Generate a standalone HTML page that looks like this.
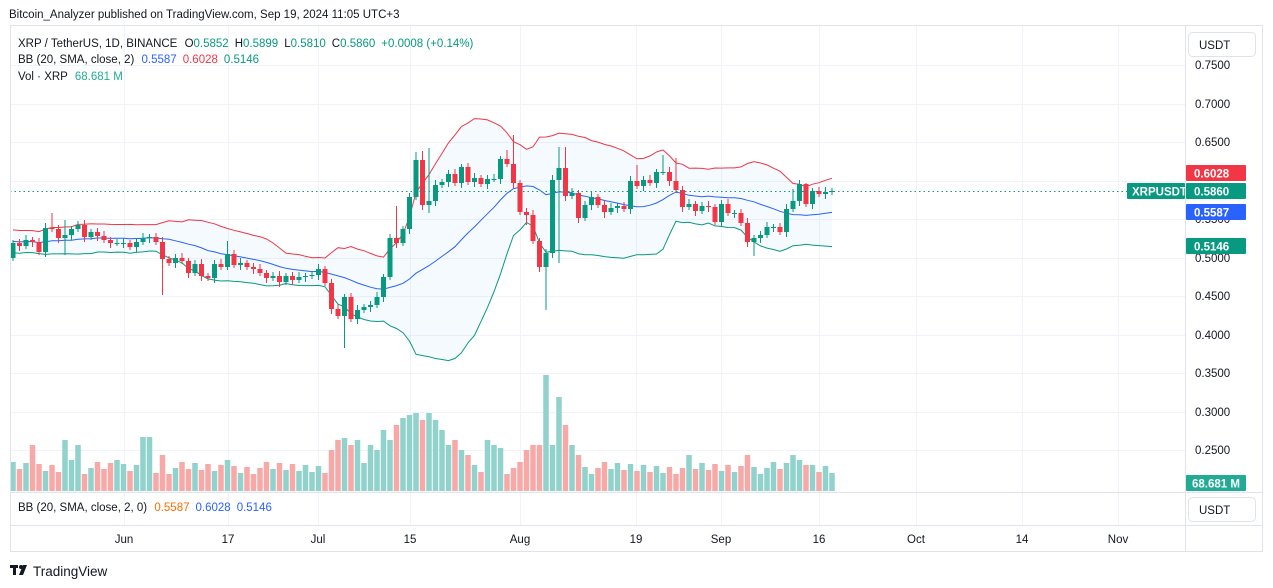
<!DOCTYPE html>
<html><head><meta charset="utf-8">
<style>
html,body{margin:0;padding:0;background:#fff;width:1273px;height:588px;overflow:hidden;font-family:"Liberation Sans",sans-serif;}
svg{position:absolute;left:0;top:0}
</style></head><body>
<svg id="s" width="1273" height="588" xmlns="http://www.w3.org/2000/svg" font-family="Liberation Sans, sans-serif">
<rect x="0" y="0" width="1273" height="588" fill="#fff"/>
<text x="9" y="18" font-size="11.5" fill="#131722">Bitcoin_Analyzer published on TradingView.com, Sep 19, 2024 11:05 UTC+3</text>
<g id="grid" stroke="#F0F3FA" stroke-width="1"></g>
<g id="bb"></g>
<g id="vol"></g>
<g id="candles"></g>
<line x1="10" y1="191.5" x2="1127" y2="191.5" stroke="#089981" stroke-dasharray="1.5,3" stroke-width="1"/>
<rect x="10.5" y="25.5" width="1252" height="526" fill="none" stroke="#E0E3EB"/>
<line x1="1185.5" y1="25" x2="1185.5" y2="552" stroke="#E0E3EB"/>
<line x1="10" y1="492.5" x2="1263" y2="492.5" stroke="#E0E3EB"/>
<line x1="10" y1="525.5" x2="1263" y2="525.5" stroke="#E0E3EB"/>
<text x="18" y="47" font-size="11.5" fill="#131722">XRP / TetherUS, 1D, BINANCE <tspan dx="4">O</tspan><tspan fill="#089981">0.5852</tspan><tspan dx="6">H</tspan><tspan fill="#089981">0.5899</tspan><tspan dx="6">L</tspan><tspan fill="#089981">0.5810</tspan><tspan dx="6">C</tspan><tspan fill="#089981">0.5860</tspan><tspan dx="6" fill="#089981">+0.0008 (+0.14%)</tspan></text>
<text x="18" y="63" font-size="11.5" fill="#131722">BB (20, SMA, close, 2) <tspan dx="4" fill="#2962FF">0.5587</tspan><tspan dx="6" fill="#F23645">0.6028</tspan><tspan dx="6" fill="#089981">0.5146</tspan></text>
<text x="18" y="80" font-size="11.5" fill="#131722">Vol · XRP <tspan dx="4" fill="#22AB94">68.681 M</tspan></text>
<text x="18" y="511" font-size="11.5" fill="#131722">BB (20, SMA, close, 2, 0) <tspan dx="4" fill="#FF6D00">0.5587</tspan><tspan dx="6" fill="#2962FF">0.6028</tspan><tspan dx="6" fill="#2962FF">0.5146</tspan></text>
<g font-size="11.5" fill="#131722">
<text x="1195" y="69">0.7500</text><text x="1195" y="108">0.7000</text><text x="1195" y="146">0.6500</text>
<text x="1195" y="223">0.5500</text><text x="1195" y="262">0.5000</text><text x="1195" y="300">0.4500</text>
<text x="1195" y="339">0.4000</text><text x="1195" y="377">0.3500</text><text x="1195" y="416">0.3000</text>
<text x="1195" y="454">0.2500</text>
</g>
<rect x="1188.5" y="32.5" width="67" height="24" rx="4" fill="#fff" stroke="#E0E3EB"/>
<text x="1199" y="49" font-size="11.5" fill="#131722">USDT</text>
<rect x="1188.5" y="497.5" width="67" height="24" rx="4" fill="#fff" stroke="#E0E3EB"/>
<text x="1199" y="514" font-size="11.5" fill="#131722">USDT</text>
<g font-size="11.5" font-weight="bold" fill="#fff">
<rect x="1186" y="165" width="60" height="16" fill="#F23645" rx="1"/><text x="1194" y="177.5">0.6028</text>
<rect x="1127" y="183" width="58" height="16" fill="#089981" rx="1"/><text x="1132" y="195.5">XRPUSDT</text>
<rect x="1186" y="183" width="60" height="16" fill="#089981" rx="1"/><text x="1194" y="195.5">0.5860</text>
<rect x="1186" y="204" width="60" height="16" fill="#2962FF" rx="1"/><text x="1194" y="216.5">0.5587</text>
<rect x="1186" y="238" width="60" height="16" fill="#089981" rx="1"/><text x="1194" y="250.5">0.5146</text>
<rect x="1186" y="475" width="60" height="16" fill="#22AB94" rx="1"/><text x="1192" y="487.5">68.681 M</text>
</g>
<g font-size="11.5" fill="#131722" text-anchor="middle">
<text x="124" y="543">Jun</text><text x="228" y="543">17</text><text x="318" y="543">Jul</text>
<text x="410" y="543">15</text><text x="520" y="543">Aug</text><text x="636" y="543">19</text>
<text x="721" y="543">Sep</text><text x="819" y="543">16</text><text x="916" y="543">Oct</text>
<text x="1022" y="543">14</text><text x="1118" y="543">Nov</text>
</g>
<g fill="#131722"><rect x="10" y="565" width="8" height="3"/><rect x="13" y="565" width="3" height="10"/><circle cx="21" cy="567" r="2"/><polygon points="23,565 27,565 23,575 19,575"/></g>
<text x="33" y="576" font-size="13.5" fill="#131722">TradingView</text>
</svg>
<script>
(function(){
var C=[243,246,240,242,252,228,229,238,235,229,225,237,232,236,240,243,243,243,247,242,238,237,242,259,263,258,261,273,264,276,278,264,267,254,265,263,267,269,273,278,276,282,276,280,277,276,275,269,283,309,316,297,319,310,307,305,297,277,238,243,229,197,160,205,201,185,182,174,183,167,182,178,184,179,179,159,164,183,212,215,241,267,253,180,168,196,193,218,205,197,205,212,208,206,209,181,186,180,183,172,172,181,190,207,204,211,206,207,222,204,213,213,223,242,238,235,227,227,232,209,201,184,204,191,194,192,191];
var O=[258];for(var i=1;i<C.length;i++)O.push(C[i-1]);
var H={6:213,8:220,33:241,59:206,62:152,63:151,64:148,77:135,84:147,85:147,96:165,100:155,102:158,120:189,122:183,76:150};
var L={23:295,8:255,33:270,51:348,82:310,114:256,84:263,64:213,79:225,91:218};
var x0=13,dx=6.5;
function X(i){return x0+dx*i;}
var cs='';
for(var i=0;i<C.length;i++){
 var o=O[i],c=C[i],x=X(i),bt=Math.min(o,c),bb=Math.max(o,c);
 var col=c<=o?'#089981':'#F23645';
 var hi=H[i]?H[i]:bt-3-(i%3), lo=L[i]?L[i]:bb+3+(i%2)*2;
 cs+='<line x1="'+x+'" y1="'+hi+'" x2="'+x+'" y2="'+lo+'" stroke="'+col+'" stroke-width="1"/>';
 var h=Math.max(1,bb-bt);
 cs+='<rect x="'+(x-2.5)+'" y="'+bt+'" width="5" height="'+h+'" fill="'+col+'"/>';
}
document.getElementById('candles').innerHTML=cs;
var pad=[236,248,240,232,245,250,238,242,230,246,244,236,250,240,234,246,242,238,248];
var all=pad.concat(C),up=[],mid=[],lw=[];
for(var i=0;i<C.length;i++){var w=all.slice(i,i+20),m=w.reduce(function(a,b){return a+b},0)/20,v=0;w.forEach(function(q){v+=(q-m)*(q-m)});var sd=Math.sqrt(v/20);mid.push(m);up.push(m-2*sd);lw.push(m+2*sd);}
function pl(a){return a.map(function(y,i){return X(i).toFixed(1)+','+y.toFixed(1)}).join(' ');}
var fill='<polygon points="'+pl(up)+' '+lw.map(function(y,i){return X(i)+','+y}).reverse().join(' ')+'" fill="rgba(33,150,243,0.05)"/>';
document.getElementById('bb').innerHTML=fill+'<polyline points="'+pl(up)+'" fill="none" stroke="#F23645" stroke-width="1"/><polyline points="'+pl(mid)+'" fill="none" stroke="#2962FF" stroke-width="1"/><polyline points="'+pl(lw)+'" fill="none" stroke="#089981" stroke-width="1"/>';
var V=[];for(var i=0;i<C.length;i++){V.push(462+((i*7)%13));}
var ov={3:445,8:440,9:460,10:445,16:460,20:437,21:437,23:455,33:460,49:450,50:440,51:438,52:445,53:440,55:445,56:450,57:430,58:440,59:425,60:418,61:415,62:413,63:420,64:413,65:420,66:430,67:445,68:440,69:450,70:455,73:440,74:445,75:448,79:450,80:445,81:445,82:375,83:445,84:397,85:425,86:445,87:455,104:455,113:455,120:455,121:460,122:465,127:485};
for(var k in ov)V[k]=ov[k];
var vs='';
for(var i=0;i<C.length;i++){var col=C[i]<=O[i]?'#92D2CC':'#F7A9A7';vs+='<rect x="'+(X(i)-2.75)+'" y="'+V[i]+'" width="5.5" height="'+(491-V[i])+'" fill="'+col+'"/>';}
document.getElementById('vol').innerHTML=vs;
var g='';[65,104,142,181,219,258,296,335,373,412,450].forEach(function(y){g+='<line x1="10" y1="'+y+'.5" x2="1185" y2="'+y+'.5"/>';});
[124,228,318,410,520,636,721,819,916,1022,1118].forEach(function(x){g+='<line x1="'+x+'.5" y1="25" x2="'+x+'.5" y2="525"/>';});
document.getElementById('grid').innerHTML=g;
})();
</script>
</body></html>
